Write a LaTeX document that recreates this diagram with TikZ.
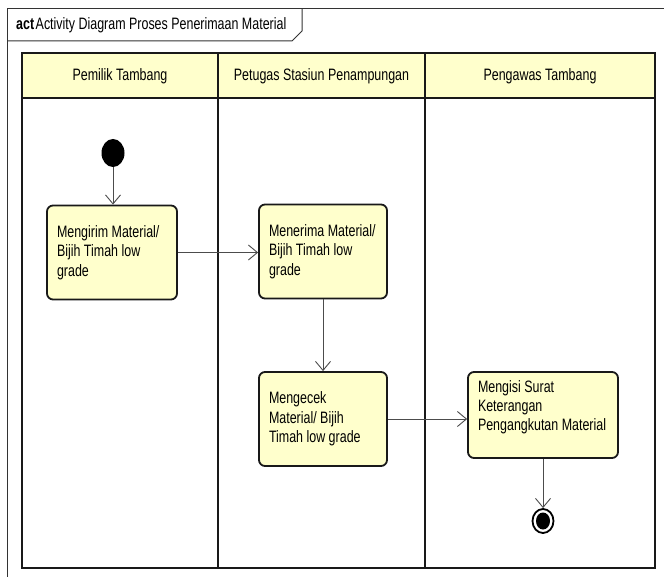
\documentclass[tikz,border=0pt]{standalone}
\usepackage{fontspec}
\setmainfont{Liberation Sans}[FakeStretch=0.755]
\usetikzlibrary{arrows.meta,shapes.geometric}
\definecolor{ylw}{HTML}{FFFFCC}
\begin{document}
\begin{tikzpicture}[x=1pt,y=-1pt,
  every node/.style={font=\fontsize{16.5}{19.3}\selectfont},
  lane/.style={draw=black!90, line width=2.2pt},
  actbox/.style={draw=black!90, line width=1.8pt, rounded corners=6pt, fill=ylw,
    inner xsep=10pt, inner ysep=0pt, align=flush left, anchor=center},
  flow/.style={draw=black!70, line width=0.9pt,
    -{Straight Barb[length=9pt,width=15pt,line width=0.9pt]}},
  hdr/.style={anchor=center}]
\useasboundingbox (0,0) rectangle (664,577);
\fill[white] (0,0) rectangle (664,577);
% outer frame
\draw[black!80, line width=1pt] (7,577) -- (7,9) -- (664,9);
\draw[black!80, line width=1pt] (7,41) -- (292,41) -- (302,31) -- (302,9);
\node[anchor=west, inner sep=0pt, font=\fontsize{16.5}{19}\selectfont] (title) at (16,25)
  {\textbf{act}\hspace{1.5pt}Activity Diagram Proses Penerimaan Material};
% swimlanes
\fill[ylw] (22,53) rectangle (655,98);
\draw[lane] (22,53) rectangle (655,568);
\draw[lane] (22,98) -- (655,98);
\draw[lane] (218,53) -- (218,568);
\draw[lane] (425,53) -- (425,568);
\node[hdr] (h1) at (120,76) {Pemilik Tambang};
\node[hdr] (h2) at (321.5,76) {Petugas Stasiun Penampungan};
\node[hdr] (h3) at (540,76) {Pengawas Tambang};
% nodes
\node[ellipse, fill=black, minimum width=23pt, minimum height=28pt, inner sep=0pt] (start) at (113,153) {};
\node[actbox, minimum width=130pt, minimum height=94pt, text width=110pt] (a1) at (112,252.5)
  {Mengirim Material/\\Bijih Timah low\\grade};
\node[actbox, minimum width=128pt, minimum height=94pt, text width=108pt] (a2) at (323,251.5)
  {Menerima Material/\\Bijih Timah low\\grade};
\node[actbox, minimum width=128pt, minimum height=94pt, text width=108pt] (a3) at (323,419)
  {Mengecek\\Material/ Bijih\\Timah low grade};
\node[actbox, minimum width=150pt, minimum height=86pt, text width=130pt] (a4) at (543,415)
  {Mengisi Surat\\Keterangan\\Pengangkutan Material\\\mbox{}};
\node[ellipse, draw=black, line width=1.8pt, fill=white, minimum width=21pt, minimum height=24pt, inner sep=0pt] (end) at (543,521) {};
\fill[black] (end.center) ellipse [x radius=7pt, y radius=8.5pt];
% flows
\draw[flow] (start.south) -- (start.south |- a1.north);
\draw[flow] (a1.east) -- (a1.east -| a2.west);
\draw[flow] (a2.south) -- (a3.north);
\draw[flow] (a3.east) -- (a3.east -| a4.west);
\draw[flow] (a4.south) -- (end.north);
\end{tikzpicture}
\end{document}
